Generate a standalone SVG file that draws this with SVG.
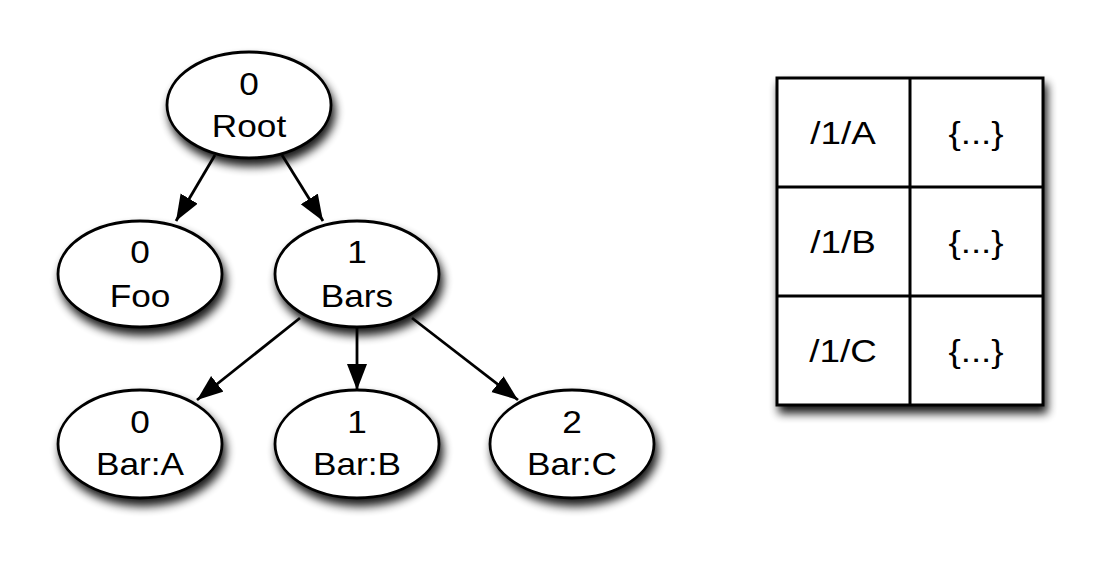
<svg xmlns="http://www.w3.org/2000/svg" width="1103" height="561" viewBox="0 0 1103 561">
  <style>
    .node ellipse { fill: #ffffff; stroke: #000000; stroke-width: 2.8; }
    .lbl { font-family: "Liberation Sans", Arial, Helvetica, sans-serif; font-size: 32px; fill: #000000; text-anchor: middle; }
    .cell { font-family: "Liberation Sans", Arial, Helvetica, sans-serif; font-size: 32px; fill: #000000; text-anchor: middle; }
    .edge { stroke: #000000; stroke-width: 2.8; fill: none; marker-end: url(#arrow); }
    .tbl { fill: #ffffff; stroke: #000000; stroke-width: 3; }
    .grid { stroke: #000000; stroke-width: 3; fill: none; }
  </style>
  <defs>
    <filter id="shadow" x="-30%" y="-30%" width="160%" height="170%">
      <feGaussianBlur in="SourceAlpha" stdDeviation="5"/>
      <feOffset dx="3" dy="7" result="b"/>
      <feComponentTransfer><feFuncA type="linear" slope="0.9"/></feComponentTransfer>
      <feMerge><feMergeNode/><feMergeNode in="SourceGraphic"/></feMerge>
    </filter>
    <marker id="arrow" markerUnits="userSpaceOnUse" markerWidth="28" markerHeight="22" refX="26" refY="10" orient="auto">
      <path d="M0,0 L26,10 L0,20 Z" fill="#000000"/>
    </marker>
  </defs>
  <rect width="1103" height="561" fill="#ffffff"/>

  <g id="connectors">
    <line class="edge" x1="215" y1="155" x2="176" y2="221"/>
    <line class="edge" x1="282" y1="155" x2="323" y2="221"/>
    <line class="edge" x1="300" y1="318" x2="197" y2="400"/>
    <line class="edge" x1="357" y1="327" x2="357" y2="390"/>
    <line class="edge" x1="412" y1="318" x2="518" y2="400"/>
  </g>

  <g id="node-root" class="node">
    <ellipse cx="249" cy="105" rx="82" ry="53" filter="url(#shadow)"/>
    <text class="lbl" transform="translate(249,95) scale(1.1,1)">0</text>
    <text class="lbl" transform="translate(249,137) scale(1.1,1)">Root</text>
  </g>
  <g id="node-foo" class="node">
    <ellipse cx="140" cy="274" rx="82" ry="53" filter="url(#shadow)"/>
    <text class="lbl" transform="translate(140,263) scale(1.1,1)">0</text>
    <text class="lbl" transform="translate(140,307) scale(1.1,1)">Foo</text>
  </g>
  <g id="node-bars" class="node">
    <ellipse cx="357" cy="274" rx="82" ry="53" filter="url(#shadow)"/>
    <text class="lbl" transform="translate(357,263) scale(1.1,1)">1</text>
    <text class="lbl" transform="translate(357,307) scale(1.1,1)">Bars</text>
  </g>
  <g id="node-bar-a" class="node">
    <ellipse cx="140" cy="444" rx="82" ry="54" filter="url(#shadow)"/>
    <text class="lbl" transform="translate(140,433) scale(1.1,1)">0</text>
    <text class="lbl" transform="translate(140,475) scale(1.1,1)">Bar:A</text>
  </g>
  <g id="node-bar-b" class="node">
    <ellipse cx="357" cy="444" rx="82" ry="54" filter="url(#shadow)"/>
    <text class="lbl" transform="translate(357,433) scale(1.1,1)">1</text>
    <text class="lbl" transform="translate(357,475) scale(1.1,1)">Bar:B</text>
  </g>
  <g id="node-bar-c" class="node">
    <ellipse cx="572" cy="444" rx="82" ry="54" filter="url(#shadow)"/>
    <text class="lbl" transform="translate(572,433) scale(1.1,1)">2</text>
    <text class="lbl" transform="translate(572,475) scale(1.1,1)">Bar:C</text>
  </g>

  <g id="table">
    <rect class="tbl" x="777" y="78" width="266" height="327" filter="url(#shadow)"/>
    <line class="grid" x1="910" y1="78" x2="910" y2="405"/>
    <line class="grid" x1="777" y1="187" x2="1043" y2="187"/>
    <line class="grid" x1="777" y1="296" x2="1043" y2="296"/>
    <text class="cell" transform="translate(843,144) scale(1.15,1)">/1/A</text>
    <text class="cell" transform="translate(976,144) scale(1.15,1)">{...}</text>
    <text class="cell" transform="translate(843,253) scale(1.15,1)">/1/B</text>
    <text class="cell" transform="translate(976,253) scale(1.15,1)">{...}</text>
    <text class="cell" transform="translate(843,362) scale(1.15,1)">/1/C</text>
    <text class="cell" transform="translate(976,362) scale(1.15,1)">{...}</text>
  </g>
</svg>
